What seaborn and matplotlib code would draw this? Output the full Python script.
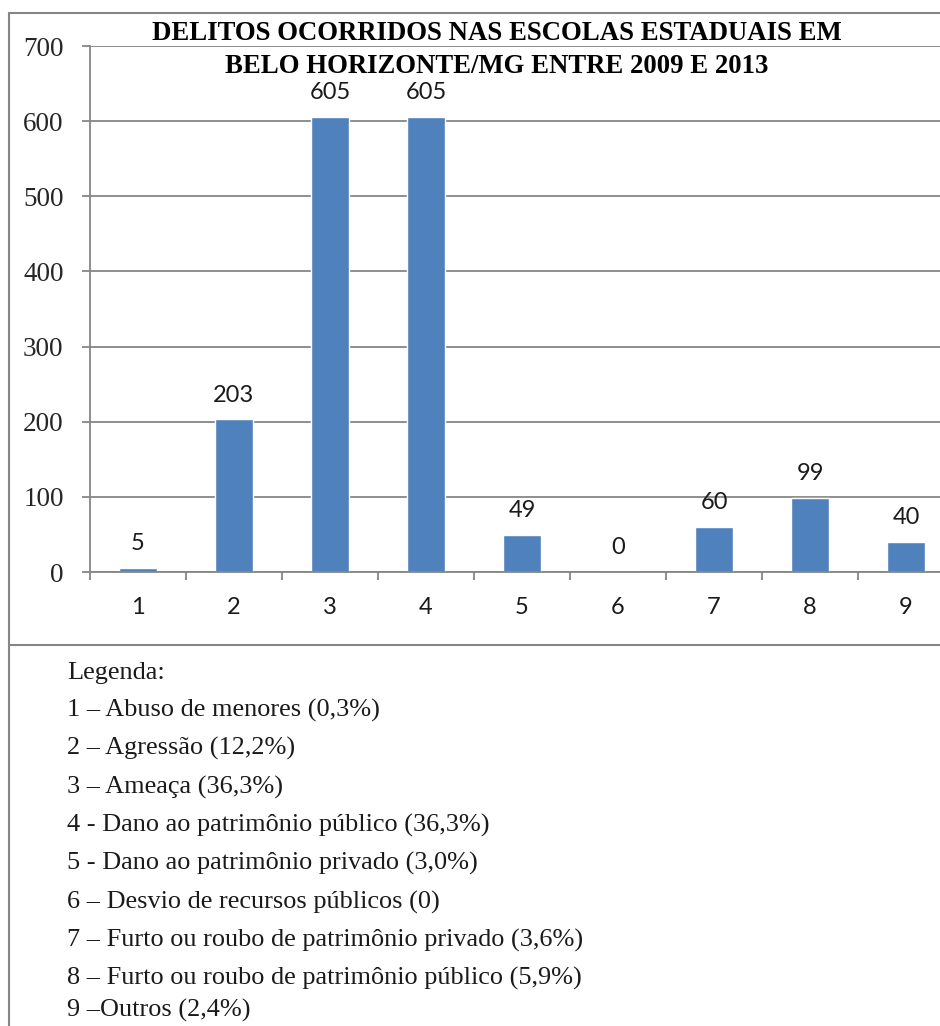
import matplotlib
matplotlib.use('Agg')
import matplotlib.pyplot as plt
import seaborn as sns
import pandas as pd
from matplotlib.lines import Line2D

# chart data
categorias = ['1', '2', '3', '4', '5', '6', '7', '8', '9']
delitos = [5, 203, 605, 605, 49, 0, 60, 99, 40]
titulo = 'DELITOS OCORRIDOS NAS ESCOLAS ESTADUAIS EM\nBELO HORIZONTE/MG ENTRE 2009 E 2013'
legenda = ['Legenda:',
           '1 \u2013 Abuso de menores (0,3%)',
           '2 \u2013 Agressão (12,2%)',
           '3 \u2013 Ameaça (36,3%)',
           '4 - Dano ao patrimônio público (36,3%)',
           '5 - Dano ao patrimônio privado (3,0%)',
           '6 \u2013 Desvio de recursos públicos (0)',
           '7 \u2013 Furto ou roubo de patrimônio privado (3,6%)',
           '8 \u2013 Furto ou roubo de patrimônio público (5,9%)',
           '9 \u2013Outros (2,4%)']

df = pd.DataFrame({'cat': categorias, 'n': delitos})

W, H = 940, 1026
grey = '#868686'
sns.set_style('white')
plt.rcParams['font.family'] = ['Lato', 'DejaVu Sans']

fig = plt.figure(figsize=(W / 100, H / 100), dpi=100)
ax = fig.add_axes([90 / W, 1 - 572 / H, 864 / W, 526 / H])

sns.barplot(data=df, x='cat', y='n', color='#4F81BD', width=0.4,
            saturation=1, ax=ax)

ax.set_ylim(0, 700)
ax.set_xlim(-0.5, 8.5)
ax.set_yticks(range(0, 701, 100))
ax.yaxis.grid(True, color=grey, linewidth=1.3)
ax.set_axisbelow(True)
ax.set(xlabel='', ylabel='')

for s in ['top', 'right']:
    ax.spines[s].set_visible(False)
for s in ['left', 'bottom']:
    ax.spines[s].set_color(grey)
    ax.spines[s].set_linewidth(1.3)

# category ticks sit between bars
ax.set_xticks([i - 0.5 for i in range(10)], minor=False)
ax.set_xticklabels([])
ax.set_xticks(range(9), minor=True)
ax.set_xticklabels(categorias, minor=True, fontsize=17, color='#1a1a1a')
ax.tick_params(axis='x', which='major', direction='out', length=6,
               width=1.3, color=grey, bottom=True)
ax.tick_params(axis='x', which='minor', length=0, pad=18)
ax.tick_params(axis='y', direction='out', length=6, width=1.3, color=grey,
               left=True, pad=13)
for lab in ax.get_yticklabels():
    lab.set_family('Liberation Serif')
    lab.set_fontsize(19.5)

ax.bar_label(ax.containers[0], labels=[str(v) for v in delitos],
             padding=10, fontsize=17, color='#1a1a1a')

fig.text(497 / W, 1 - 50 / H, titulo, ha='center', va='center',
         family='Liberation Serif', fontweight='bold', fontsize=19.3,
         linespacing=1.4, color='black')

# frame lines
fig.add_artist(Line2D([9 / W, 1], [1 - 13 / H, 1 - 13 / H], color=grey, lw=1.5))
fig.add_artist(Line2D([9 / W, 1], [1 - 645 / H, 1 - 645 / H], color=grey, lw=1.5))
fig.add_artist(Line2D([9 / W, 9 / W], [0, 1 - 13 / H], color=grey, lw=1.5))

ys = [673, 710, 748, 787, 825, 863, 902, 940, 978, 1010]
for txt, y in zip(legenda, ys):
    fig.text(67 / W, 1 - y / H, txt, ha='left', va='center',
             family='Liberation Serif', fontsize=18.9, color='#1a1a1a')

fig.savefig('out.png', dpi=100)
